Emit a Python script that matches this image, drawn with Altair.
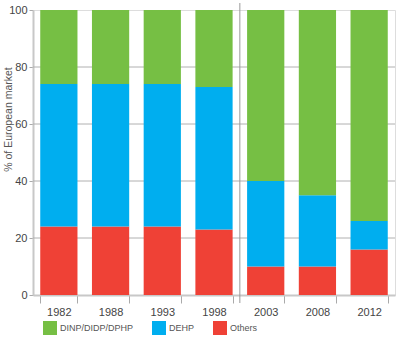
import altair as alt
import pandas as pd

years = ["1982", "1988", "1993", "1998", "2003", "2008", "2012"]
others = [24, 24, 24, 23, 10, 10, 16]
dehp = [50, 50, 50, 50, 30, 25, 10]
dinp = [26, 26, 26, 27, 60, 65, 74]
series = ["DINP/DIDP/DPHP", "DEHP", "Others"]
colors = ["#76bf44", "#00aeef", "#ef4136"]
grid_values = [20, 40, 60, 80]

rows = []
for i, y in enumerate(years):
    rows.append({"year": y, "series": "Others", "value": others[i], "ord": 0})
    rows.append({"year": y, "series": "DEHP", "value": dehp[i], "ord": 1})
    rows.append({"year": y, "series": "DINP/DIDP/DPHP", "value": dinp[i], "ord": 2})
df = pd.DataFrame(rows)

W, H = 362, 285
PI = 0.28
step = W / len(years)
FONT = "Liberation Sans"

xscale = alt.Scale(domain=years, paddingInner=PI, paddingOuter=PI / 2)
yscale = alt.Scale(domain=[0, 100])

grid = alt.Chart(pd.DataFrame({"g": grid_values})).mark_rule(
    color="#b0b0b0", strokeWidth=1
).encode(y=alt.Y("g:Q", scale=yscale))

bars = alt.Chart(df).mark_bar().encode(
    x=alt.X("year:N", scale=xscale, sort=years,
            axis=alt.Axis(title=None, labelAngle=0, tickBand="extent",
                          tickSize=8, tickColor="#aaaaaa", domainColor="#c8c8c8",
                          domainWidth=2, labelColor="#444444", labelFontSize=11,
                          labelFont=FONT, labelPadding=3, grid=False)),
    y=alt.Y("value:Q", stack="zero", scale=yscale,
            axis=alt.Axis(title="% of European market", values=[0, 20, 40, 60, 80, 100],
                          ticks=True, tickSize=4, tickColor="#aaaaaa",
                          grid=False, domainColor="#c8c8c8", domainWidth=2,
                          labelColor="#444444", labelFontSize=11, labelFont=FONT,
                          labelPadding=2, titleFont=FONT, titleFontSize=10.5,
                          titleFontWeight="normal", titleColor="#555555",
                          titleX=-25, titleY=109, titleAngle=270,
                          titleAlign="center", titleBaseline="middle")),
    color=alt.Color("series:N", scale=alt.Scale(domain=series, range=colors),
                    legend=alt.Legend(title=None, orient="none", legendX=10, legendY=311,
                                      direction="horizontal", symbolType="square",
                                      symbolSize=196, symbolStrokeWidth=0,
                                      symbolOpacity=1, labelFont=FONT, labelFontSize=9,
                                      labelColor="#555555", labelOffset=3,
                                      columnPadding=18)),
    order=alt.Order("ord:Q"),
)

sep = alt.Chart(pd.DataFrame({"year": ["2003"]})).mark_rule(
    color="#999999", strokeWidth=1
).encode(
    x=alt.X("year:N", scale=xscale, bandPosition=0),
    xOffset=alt.value(-step * PI / 2),
    y=alt.value(-7),
    y2=alt.value(H + 8),
)

chart = alt.layer(grid, bars, sep).properties(
    width=W, height=H,
    autosize=alt.AutoSizeParams(type="none"),
    padding={"left": 33, "top": 10, "right": 5, "bottom": 44},
).configure_view(stroke=None).configure(background="white")

chart.save("out.html", embed_options={"renderer": "svg", "actions": False})
